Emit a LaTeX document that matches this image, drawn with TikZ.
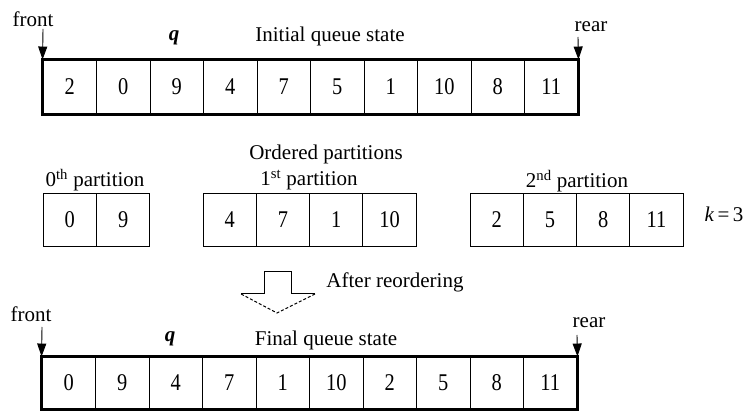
\documentclass[tikz,border=0pt]{standalone}
\usepackage{fontspec}
\setmainfont{Liberation Serif}
\newfontfamily\digitfont[FakeStretch=0.85]{Liberation Serif}
\usetikzlibrary{arrows.meta}
\begin{document}
\begin{tikzpicture}[x=1pt,y=-1pt,
  lbl/.style={font=\fontsize{21}{24}\selectfont, inner sep=0pt, anchor=base},
  qcell/.style={draw, line width=0.9pt, minimum width=53.5pt, minimum height=54pt, inner sep=0pt,
    font=\digitfont\fontsize{24}{26}\selectfont},
  pcell/.style={qcell, minimum width=53.3pt, minimum height=53pt},
  fcell/.style={qcell, minimum height=52pt},
  border/.style={line width=3.5pt, line join=miter},
  ptr/.style={line width=0.9pt, -{Triangle[length=13pt,width=9pt]}},
  hollow/.style={line width=1pt},
  hollowdash/.style={line width=1pt, dashed, dash pattern=on 3pt off 2pt}
]
\useasboundingbox (0,0) rectangle (752,411);

% ---------- initial queue ----------
\foreach \v [count=\i] in {2,0,9,4,7,5,1,10,8,11}
  \node[qcell] (t\i) at ({43+53.5*(\i-0.5)},87) {\v};
\draw[border] (t1.north west) rectangle (t10.south east);

\node[lbl] (front1) at (33,27) {front};
\node[lbl] (rear1) at (591,32) {rear};
\node[lbl, font=\fontsize{21}{24}\selectfont\bfseries\itshape] (q1) at (174,41) {q};
\node[lbl] (init) at (330,42) {Initial queue state};
\coordinate (f1) at (43,29);
\coordinate (r1) at (578,37);
\draw[ptr] (f1) -- (t1.north west);
\draw[ptr] (r1) -- (t10.north east);

% ---------- partitions ----------
\node[lbl] (ordered) at (326,160) {Ordered partitions};
\node[lbl] (p0lbl) at (95,187) {0\textsuperscript{th} partition};
\node[lbl] (p1lbl) at (309,186) {1\textsuperscript{st} partition};
\node[lbl] (p2lbl) at (577,188) {2\textsuperscript{nd} partition};

\foreach \v [count=\i] in {0,9}
  \node[pcell] (a\i) at ({43+53.5*(\i-0.5)},219.5) {\v};
\foreach \v [count=\i] in {4,7,1,10}
  \node[pcell] (b\i) at ({203+53.3*(\i-0.5)},219.5) {\v};
\foreach \v [count=\i] in {2,5,8,11}
  \node[pcell] (c\i) at ({470+53.3*(\i-0.5)},219.5) {\v};
\node[lbl] (k) at (724,222) {\textit{k}\,=\,3};

% ---------- reorder arrow ----------
\draw[hollow] (241,294) -- (264,294) -- (264,272) -- (291,272) -- (291,294) -- (315,294);
\draw[hollowdash] (315,294) -- (277,313) -- (241,294);
\node[lbl] (after) at (395,288) {After reordering};

% ---------- final queue ----------
\foreach \v [count=\i] in {0,9,4,7,1,10,2,5,8,11}
  \node[fcell] (u\i) at ({42+53.5*(\i-0.5)},383) {\v};
\draw[border] (u1.north west) rectangle (u10.south east);

\node[lbl] (front2) at (31,322) {front};
\node[lbl] (rear2) at (589,328) {rear};
\node[lbl, font=\fontsize{21}{24}\selectfont\bfseries\itshape] (q2) at (170,342) {q};
\node[lbl] (final) at (326,345) {Final queue state};
\coordinate (f2) at (42,327);
\coordinate (r2) at (577,335);
\draw[ptr] (f2) -- (u1.north west);
\draw[ptr] (r2) -- (u10.north east);
\end{tikzpicture}
\end{document}
